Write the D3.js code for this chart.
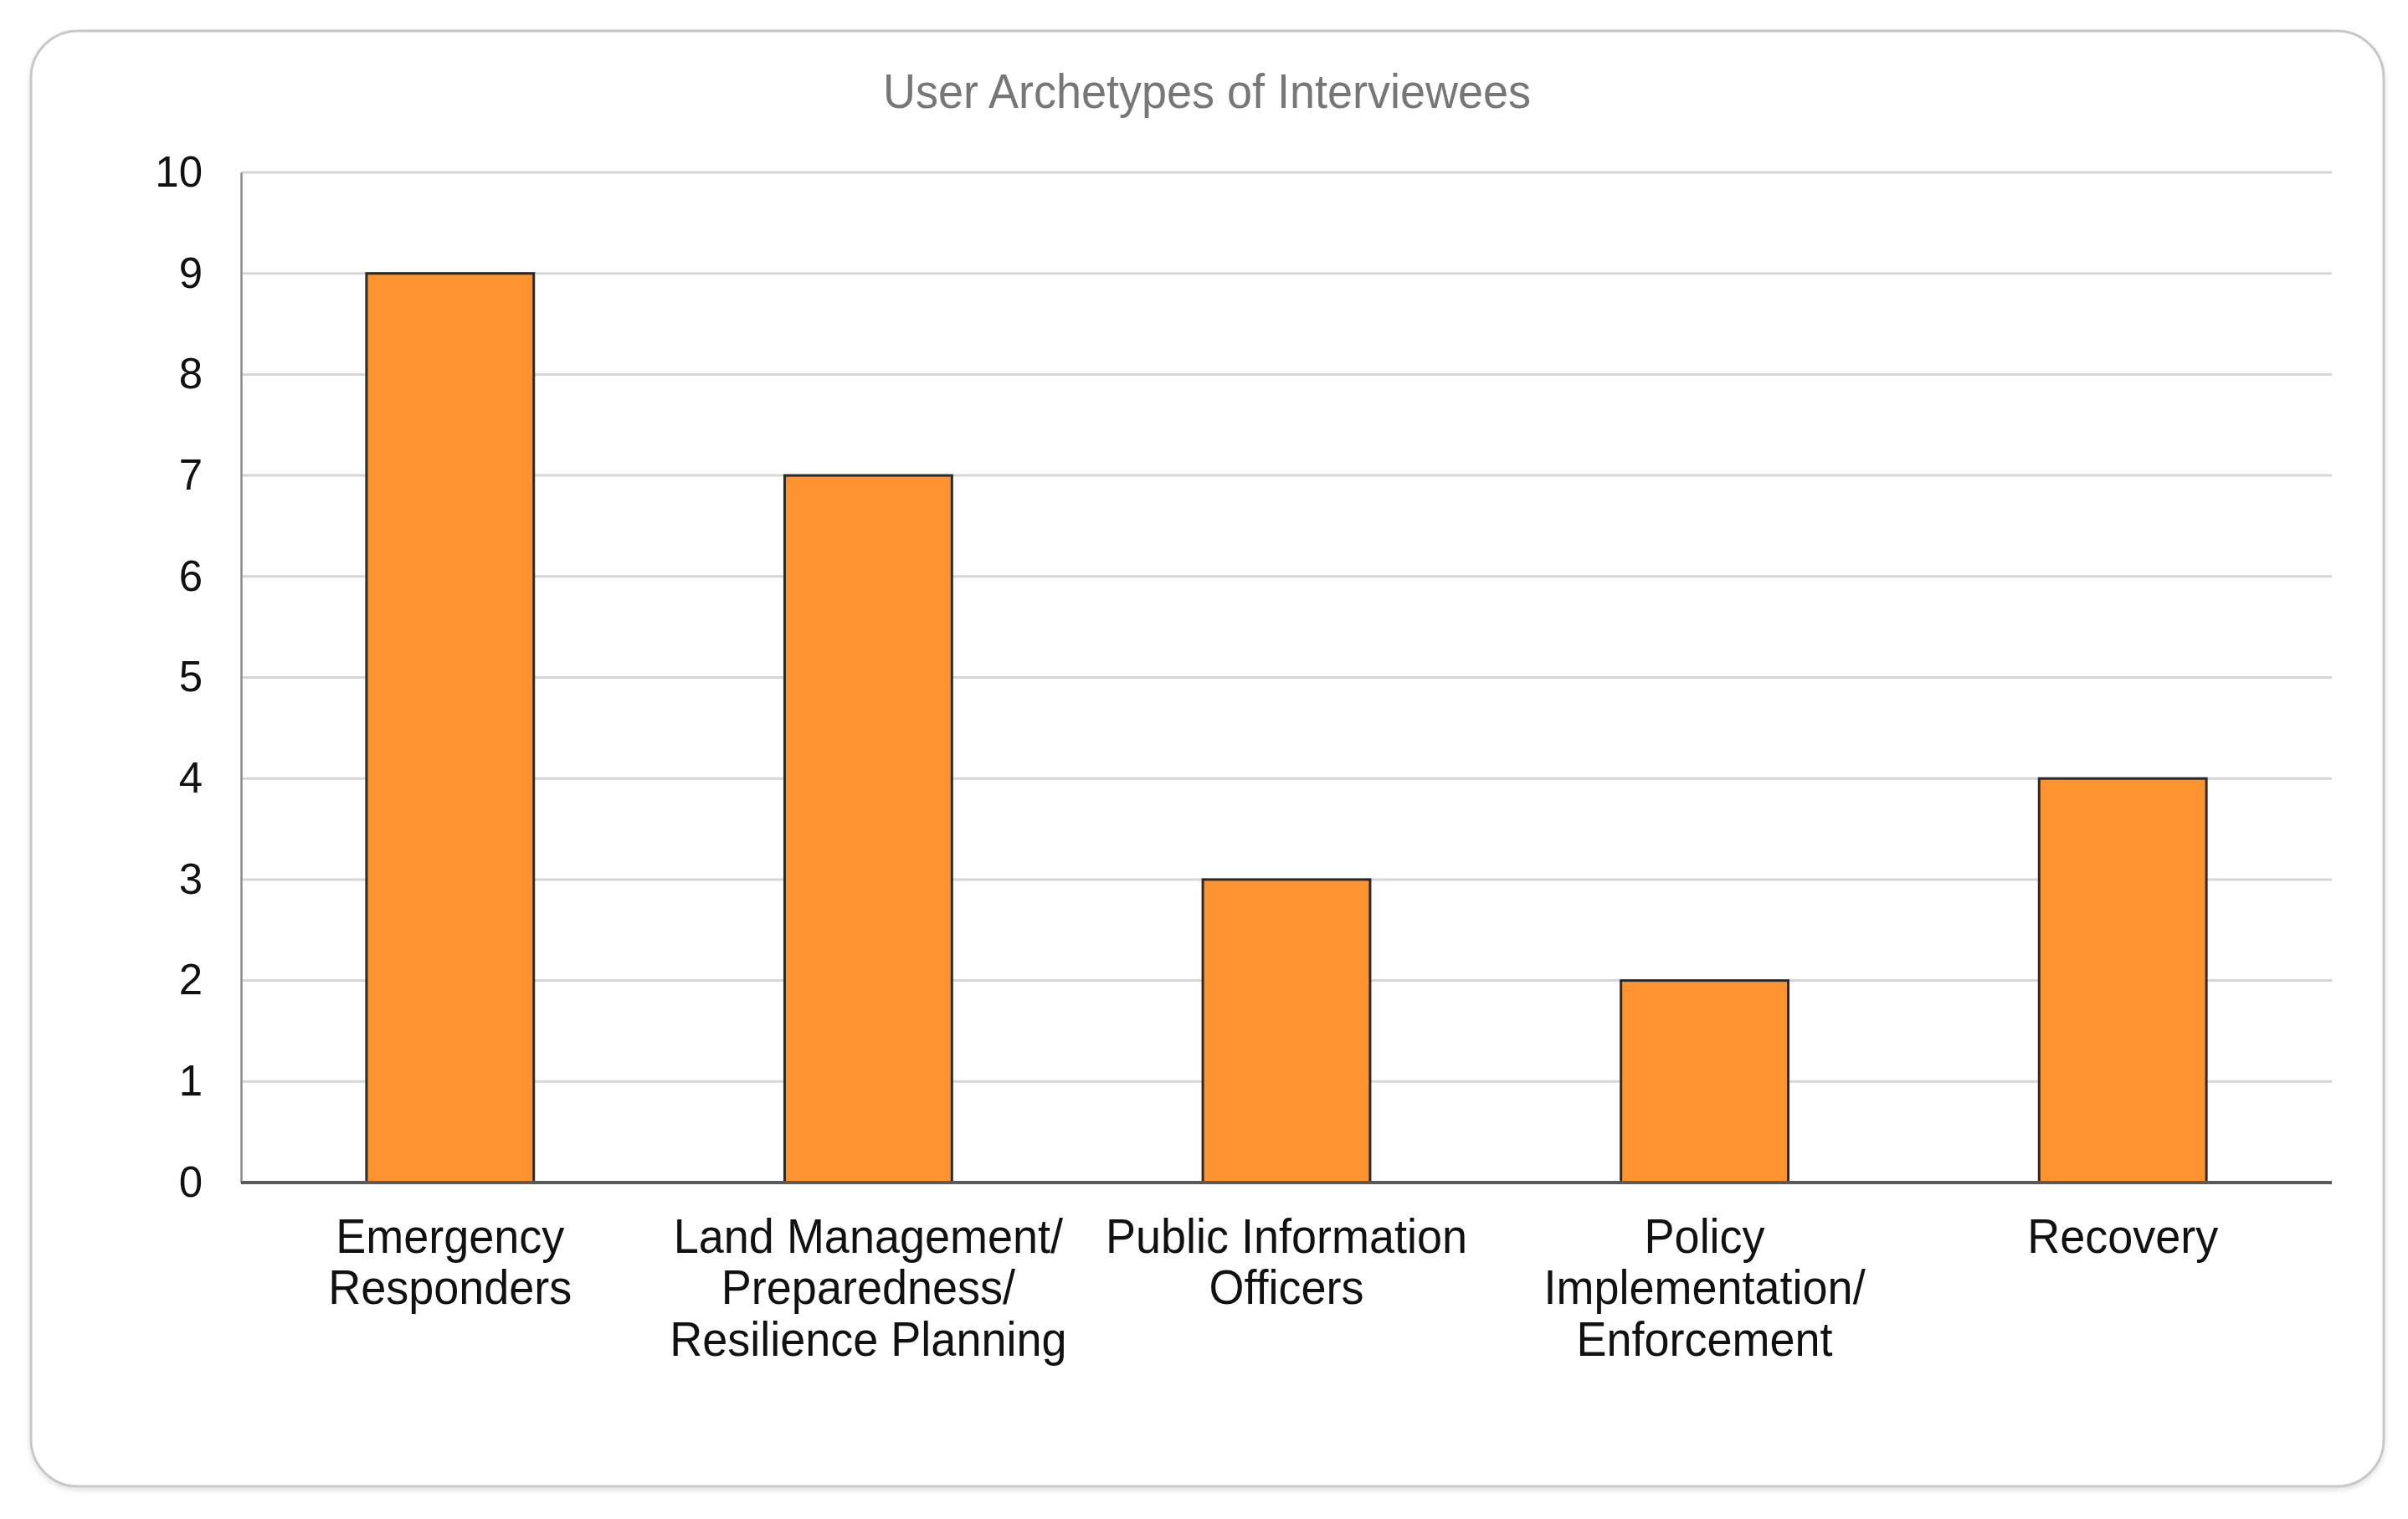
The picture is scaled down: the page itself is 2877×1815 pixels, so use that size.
<!DOCTYPE html>
<html>
<head>
<meta charset="utf-8">
<script src="https://cdn.jsdelivr.net/npm/d3@7"></script>
<style>
  html, body { margin: 0; padding: 0; background: #fff; }
  svg { display: block; font-family: "Liberation Sans", Arial, Helvetica, sans-serif; }
</style>
</head>
<body>
<svg></svg>
<script>
const categories = [
  ['Emergency', 'Responders'],
  ['Land Management/', 'Preparedness/', 'Resilience Planning'],
  ['Public Information', 'Officers'],
  ['Policy', 'Implementation/', 'Enforcement'],
  ['Recovery'],
]
const counts = [9, 7, 3, 2, 4]
const yTicks = [0, 1, 2, 3, 4, 5, 6, 7, 8, 9, 10]
const title = 'User Archetypes of Interviewees'

const width = 2877
const height = 1815
const plot = { left: 288, right: 2786, top: 206, bottom: 1413 }

const svg = d3.select('svg')
  .attr('width', width)
  .attr('height', height)

const defs = svg.append('defs')
const shadow = defs.append('filter').attr('id', 'shadow')
  .attr('x', '-5%').attr('y', '-5%').attr('width', '110%').attr('height', '110%')
shadow.append('feDropShadow')
  .attr('dx', 0).attr('dy', 3).attr('stdDeviation', 3)
  .attr('flood-color', '#000').attr('flood-opacity', 0.12)

// card
svg.append('rect')
  .attr('x', 37).attr('y', 37)
  .attr('width', 2811).attr('height', 1739)
  .attr('rx', 56).attr('ry', 56)
  .attr('fill', '#fff')
  .attr('stroke', '#c8c8c8')
  .attr('stroke-width', 3)
  .attr('filter', 'url(#shadow)')

// text is slightly taller in the source picture
svg.append('text')
  .attr('text-anchor', 'middle')
  .attr('font-size', 54)
  .attr('fill', '#777')
  .attr('transform', 'translate(1442,129) scale(1,1.06)')
  .text(title)

const x = d3.scaleBand()
  .domain(d3.range(categories.length))
  .range([plot.left, plot.right])
  .paddingInner(0.6)
  .paddingOuter(0.3)

const y = d3.scaleLinear()
  .domain([0, 10])
  .range([plot.bottom, plot.top])

// gridlines
svg.append('g')
  .selectAll('line')
  .data(yTicks.filter(t => t > 0))
  .join('line')
  .attr('x1', plot.left).attr('x2', plot.right)
  .attr('y1', d => y(d)).attr('y2', d => y(d))
  .attr('stroke', '#d6d6d6')
  .attr('stroke-width', 3)

// y axis
const yAxis = svg.append('g')
  .attr('transform', `translate(${plot.left},0)`)
  .call(d3.axisLeft(y).tickValues(yTicks).tickSize(0).tickPadding(46))
yAxis.select('.domain').attr('stroke', '#8a8a8a').attr('stroke-width', 2.5)
yAxis.selectAll('text')
  .attr('font-size', 51)
  .attr('font-family', '"Liberation Sans", Arial, sans-serif')
  .attr('fill', '#111')

// bars
svg.append('g')
  .selectAll('rect')
  .data(counts)
  .join('rect')
  .attr('x', (d, i) => x(i))
  .attr('y', d => y(d))
  .attr('width', x.bandwidth())
  .attr('height', d => y(0) - y(d))
  .attr('fill', '#fe942f')
  .attr('stroke', '#2a2a2a')
  .attr('stroke-width', 3)

// x baseline
svg.append('line')
  .attr('x1', plot.left).attr('x2', plot.right)
  .attr('y1', y(0)).attr('y2', y(0))
  .attr('stroke', '#5a5a5a')
  .attr('stroke-width', 4)

// x labels
svg.append('g')
  .selectAll('text')
  .data(categories)
  .join('text')
  .attr('text-anchor', 'middle')
  .attr('font-size', 54)
  .attr('fill', '#111')
  .attr('transform', (d, i) => `translate(${x(i) + x.bandwidth() / 2},1497) scale(1,1.06)`)
  .selectAll('tspan')
  .data(d => d)
  .join('tspan')
  .attr('x', 0)
  .attr('y', (d, i) => i * 58)
  .text(d => d)
</script>
</body>
</html>
